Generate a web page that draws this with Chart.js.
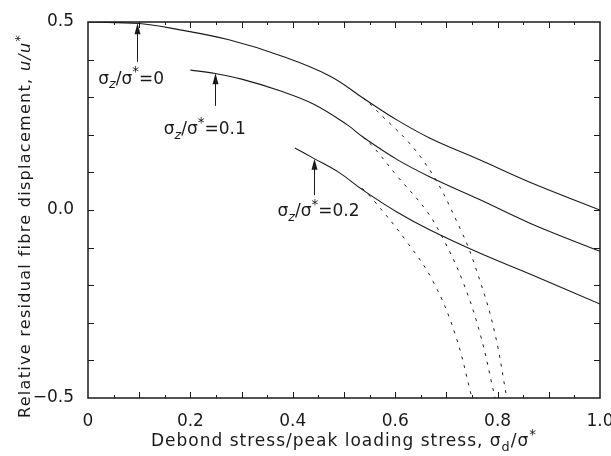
<!DOCTYPE html>
<html>
<head>
<meta charset="utf-8">
<script src="https://cdn.jsdelivr.net/npm/chart.js@4.4.1/dist/chart.umd.min.js"></script>
<style>
  html, body { margin: 0; padding: 0; background: #fff; }
</style>
</head>
<body>
<canvas id="myChart" width="611" height="456"></canvas>
<script>
// sigma_z / sigma* values of the three curves
const ratioLabels = ['0', '0.1', '0.2'];

// solid curves
const solidX0 = [0, 0.1, 0.18, 0.277, 0.375, 0.473, 0.537, 0.604, 0.668, 0.766, 0.863, 1.0];
const solidY0 = [0.5, 0.496, 0.479, 0.452, 0.411, 0.356, 0.298, 0.239, 0.191, 0.133, 0.074, 0.0];
const solidX1 = [0.2, 0.244, 0.3, 0.375, 0.44, 0.506, 0.537, 0.604, 0.668, 0.766, 0.863, 1.0];
const solidY1 = [0.372, 0.364, 0.348, 0.317, 0.282, 0.227, 0.194, 0.134, 0.088, 0.027, -0.035, -0.11];
const solidX2 = [0.404, 0.44, 0.49, 0.537, 0.604, 0.668, 0.766, 0.863, 1.0];
const solidY2 = [0.165, 0.138, 0.1, 0.053, -0.006, -0.053, -0.115, -0.17, -0.25];

// dashed branches
const dashX0 = [0.537, 0.557, 0.654, 0.727, 0.766, 0.795, 0.818];
const dashY0 = [0.298, 0.274, 0.133, -0.05, -0.19, -0.33, -0.5];
const dashX1 = [0.537, 0.557, 0.604, 0.66, 0.693, 0.732, 0.766, 0.795];
const dashY1 = [0.194, 0.168, 0.09, 0.0, -0.075, -0.19, -0.33, -0.5];
const dashX2 = [0.535, 0.557, 0.623, 0.674, 0.717, 0.75];
const dashY2 = [0.058, 0.027, -0.085, -0.19, -0.33, -0.5];

// tick labels
const xLabelVals = [0, 0.2, 0.4, 0.6, 0.8, 1.0];
const yLabelVals = [-0.5, 0, 0.5];

// annotation anchors: text left/middle, arrow x, arrow tip y, arrow tail y
const noteTextX = [0.02, 0.148, 0.37];
const noteTextY = [0.348, 0.213, -0.005];
const noteArrowX = [0.096, 0.248, 0.441];
const noteTipY = [0.497, 0.364, 0.136];
const noteTailY = [0.394, 0.277, 0.04];

const ink = '#1a1a1a';
const font = '"DejaVu Sans", sans-serif';

const toPoints = (xs, ys) => xs.map((x, i) => ({ x: x, y: ys[i] }));

const lineSet = (xs, ys, dashed) => ({
    data: toPoints(xs, ys),
    showLine: true,
    borderColor: ink,
    borderWidth: dashed ? 1 : 1.1,
    borderDash: dashed ? [3, 6] : [],
    pointRadius: 0,
    tension: 0.4,
    fill: false
});

const data = {
    datasets: [
        lineSet(solidX0, solidY0, false),
        lineSet(solidX1, solidY1, false),
        lineSet(solidX2, solidY2, false),
        lineSet(dashX0, dashY0, true),
        lineSet(dashX1, dashY1, true),
        lineSet(dashX2, dashY2, true)
    ]
};

const partFont = (p, size) => {
    const s = p.sub ? size * 0.75 : p.sup ? size * 0.8 : size;
    return (p.it ? 'italic ' : '') + s + 'px ' + font;
};

// draws text pieces with sub/superscripts, returns end x
const richText = (ctx, x, y, parts, size) => {
    parts.forEach((p) => {
        let dy = 0;
        if (p.sub) dy = size * 0.32;
        if (p.sup) dy = -size * 0.4;
        ctx.font = partFont(p, size);
        ctx.fillText(p.t, x, y + dy);
        x += ctx.measureText(p.t).width;
    });
    return x;
};

const measure = (ctx, parts, size) => {
    let w = 0;
    parts.forEach((p) => {
        ctx.font = partFont(p, size);
        w += ctx.measureText(p.t).width;
    });
    return w;
};

const frameTicks = {
    id: 'frameTicks',
    afterDatasetsDraw(chart) {
        const { ctx, chartArea: a, scales: { x, y } } = chart;
        ctx.save();
        ctx.strokeStyle = ink;
        ctx.lineWidth = 1.5;
        ctx.strokeRect(a.left, a.top, a.right - a.left, a.bottom - a.top);
        ctx.lineWidth = 1;
        ctx.beginPath();
        for (let i = 1; i < 20; i++) {
            const px = Math.round(x.getPixelForValue(i * 0.05)) + 0.5;
            const len = i % 2 === 0 ? 6 : 3;
            ctx.moveTo(px, a.bottom); ctx.lineTo(px, a.bottom - len);
            ctx.moveTo(px, a.top); ctx.lineTo(px, a.top + len);
        }
        for (let i = 1; i < 10; i++) {
            const py = Math.round(y.getPixelForValue(-0.5 + i * 0.1)) + 0.5;
            ctx.moveTo(a.left, py); ctx.lineTo(a.left + 6, py);
            ctx.moveTo(a.right, py); ctx.lineTo(a.right - 6, py);
        }
        ctx.stroke();

        // annotations with arrows
        ctx.fillStyle = ink;
        ctx.textBaseline = 'middle';
        ratioLabels.forEach((lab, i) => {
            const tx = x.getPixelForValue(noteTextX[i]);
            const ty = y.getPixelForValue(noteTextY[i]);
            richText(ctx, tx, ty, [
                { t: 'σ' }, { t: 'z', sub: true, it: true }, { t: '/σ' },
                { t: '*', sup: true }, { t: '=' + lab }
            ], 17);
            const ax = Math.round(x.getPixelForValue(noteArrowX[i])) + 0.5;
            const tip = y.getPixelForValue(noteTipY[i]);
            const tail = y.getPixelForValue(noteTailY[i]);
            ctx.beginPath();
            ctx.moveTo(ax, tail); ctx.lineTo(ax, tip + 8);
            ctx.stroke();
            ctx.beginPath();
            ctx.moveTo(ax, tip); ctx.lineTo(ax - 3, tip + 11); ctx.lineTo(ax + 3, tip + 11);
            ctx.closePath();
            ctx.fill();
        });

        // axis titles
        ctx.textBaseline = 'alphabetic';
        const xParts = [
            { t: 'Debond stress/peak loading stress, σ' }, { t: 'd', sub: true },
            { t: '/σ' }, { t: '*', sup: true }
        ];
        const yParts = [
            { t: 'Relative residual fibre displacement, ' }, { t: 'u/u', it: true },
            { t: '*', sup: true }
        ];
        ctx.letterSpacing = '1px';
        const xw = measure(ctx, xParts, 17);
        richText(ctx, (a.left + a.right) / 2 - xw / 2, a.bottom + 48, xParts, 17);
        ctx.letterSpacing = '1.3px';
        ctx.translate(30, 418);
        ctx.rotate(-Math.PI / 2);
        richText(ctx, 0, 0, yParts, 16);
        ctx.restore();
    }
};

let myChart = new Chart(document.getElementById('myChart'), {
    type: 'scatter',
    data: data,
    options: {
        responsive: false,
        animation: false,
        devicePixelRatio: 1,
        layout: { padding: { top: 22, right: 11, left: 0, bottom: 0 } },
        plugins: { legend: { display: false }, tooltip: { enabled: false } },
        scales: {
            x: {
                type: 'linear', min: 0, max: 1,
                grid: { display: false },
                border: { display: false },
                afterBuildTicks: (s) => { s.ticks = xLabelVals.map((v) => ({ value: v })); },
                afterFit: (s) => { s.height = 58; s.paddingRight = 0; s.paddingLeft = 0; },
                ticks: {
                    padding: 5, color: ink, maxRotation: 0,
                    font: { family: font, size: 17 },
                    callback: (v) => (v === 0 ? '0' : v.toFixed(1))
                }
            },
            y: {
                type: 'linear', min: -0.5, max: 0.5,
                grid: { display: false },
                border: { display: false },
                afterBuildTicks: (s) => { s.ticks = yLabelVals.map((v) => ({ value: v })); },
                afterFit: (s) => { s.width = 88; s.paddingTop = 0; s.paddingBottom = 0; },
                ticks: {
                    padding: 6, color: ink,
                    font: { family: font, size: 17 },
                    callback: (v) => (v < 0 ? '−' : '') + Math.abs(v).toFixed(1)
                }
            }
        }
    },
    plugins: [frameTicks]
});
</script>
</body>
</html>
